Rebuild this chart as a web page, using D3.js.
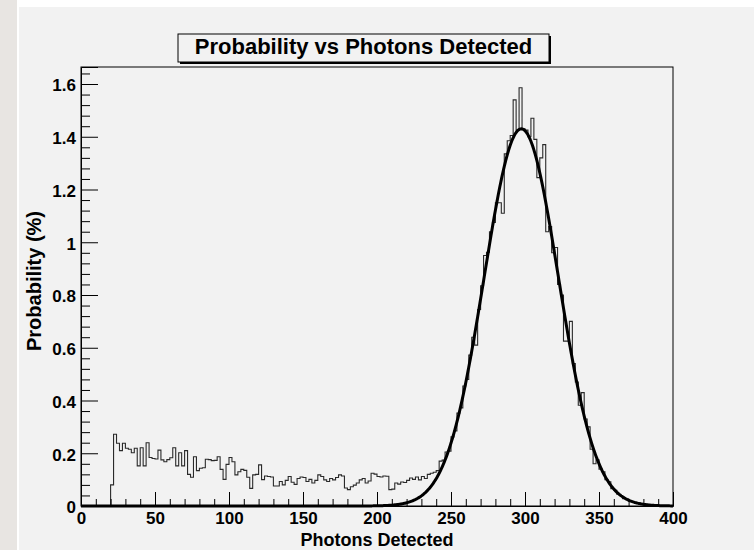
<!DOCTYPE html>
<html>
<head>
<meta charset="utf-8">
<script src="https://cdn.jsdelivr.net/npm/d3@7"></script>
<style>
  html, body { margin: 0; padding: 0; background: #ffffff; }
  svg { display: block; }
  text { font-family: "Liberation Sans", Arial, Helvetica, sans-serif; font-weight: bold; fill: #000; }
</style>
</head>
<body>
<svg id="chart" width="754" height="550"></svg>
<script>
// Histogram binning along the photon-count axis
const xRange = [0, 400];
const binWidth = 2;

// Probability (%) per 2-photon bin, bins starting at 0, 2, 4, ... 398
const probability = [
  0, 0, 0, 0, 0, 0, 0, 0, 0, 0,
  0.080, 0.272, 0.238, 0.210, 0.238, 0.219, 0.215, 0.202, 0.219, 0.152,
  0.221, 0.152, 0.240, 0.184, 0.180, 0.178, 0.212, 0.175, 0.168, 0.176,
  0.183, 0.221, 0.152, 0.202, 0.152, 0.210, 0.120, 0.109, 0.187, 0.134,
  0.143, 0.145, 0.177, 0.176, 0.172, 0.173, 0.187, 0.139, 0.101, 0.158,
  0.184, 0.168, 0.118, 0.130, 0.139, 0.135, 0.109, 0.067, 0.118, 0.120,
  0.156, 0.100, 0.114, 0.112, 0.110, 0.076, 0.076, 0.093, 0.080, 0.097,
  0.112, 0.090, 0.082, 0.104, 0.110, 0.108, 0.093, 0.101, 0.087, 0.097,
  0.118, 0.112, 0.099, 0.093, 0.104, 0.099, 0.108, 0.118, 0.114, 0.068,
  0.062, 0.073, 0.079, 0.087, 0.099, 0.104, 0.087, 0.095, 0.124, 0.121,
  0.112, 0.110, 0.114, 0.113, 0.062, 0.064, 0.087, 0.083, 0.091, 0.089,
  0.097, 0.106, 0.101, 0.110, 0.099, 0.112, 0.104, 0.120, 0.124, 0.128,
  0.134, 0.170, 0.174, 0.205, 0.208, 0.262, 0.285, 0.352, 0.372, 0.455,
  0.480, 0.572, 0.640, 0.610, 0.745, 0.835, 0.950, 0.962, 1.040, 1.075,
  1.150, 1.150, 1.110, 1.335, 1.385, 1.405, 1.540, 1.425, 1.586, 1.430,
  1.425, 1.400, 1.470, 1.390, 1.245, 1.320, 1.370, 1.040, 1.060, 0.960,
  0.980, 0.840, 0.800, 0.625, 0.625, 0.700, 0.540, 0.470, 0.382, 0.430,
  0.330, 0.300, 0.215, 0.160, 0.175, 0.140, 0.130, 0.100, 0.092, 0.066,
  0.060, 0.045, 0.040, 0.028, 0.026, 0.018, 0.017, 0.010, 0.011, 0.006,
  0.006, 0.004, 0.003, 0.002, 0.002, 0.001, 0.001, 0, 0, 0
];

// Gaussian fit parameters (constant, mean, sigma)
const fitConstant = 1.43;
const fitMean = 297.5;
const fitSigma = 25.1;

// Axis ticks and labels
const xTickValues = [0, 50, 100, 150, 200, 250, 300, 350, 400];
const xTickLabels = ["0", "50", "100", "150", "200", "250", "300", "350", "400"];
const yTickValues = [0, 0.2, 0.4, 0.6, 0.8, 1.0, 1.2, 1.4, 1.6];
const yTickLabels = ["0", "0.2", "0.4", "0.6", "0.8", "1", "1.2", "1.4", "1.6"];
const yMax = 1.6645;

const titleText = "Probability vs Photons Detected";
const xTitle = "Photons Detected";
const yTitle = "Probability (%)";

// ---- layout ----
const frame = { left: 81, right: 673, top: 67, bottom: 506 };
const svg = d3.select("#chart");

// canvas background
svg.append("rect").attr("x", 0).attr("y", 0).attr("width", 754).attr("height", 550).attr("fill", "#ffffff");
svg.append("rect").attr("x", 0).attr("y", 0).attr("width", 17).attr("height", 550).attr("fill", "#e8e5e2");
svg.append("rect").attr("x", 19).attr("y", 7).attr("width", 735).attr("height", 543).attr("fill", "#f2f2f2");

const x = d3.scaleLinear().domain(xRange).range([frame.left, frame.right]);
const y = d3.scaleLinear().domain([0, yMax]).range([frame.bottom, frame.top]);

// ---- histogram (step outline) ----
const steps = probability.map((v, i) => [xRange[0] + i * binWidth, v]);
steps.push([xRange[0] + probability.length * binWidth, probability[probability.length - 1]]);

const stepLine = d3.line()
  .x(d => x(d[0]))
  .y(d => y(d[1]))
  .curve(d3.curveStepAfter);

svg.append("path")
  .datum(steps)
  .attr("d", stepLine)
  .attr("fill", "none")
  .attr("stroke", "#2a2a2a")
  .attr("stroke-width", 1.1);

// ---- Gaussian fit curve ----
const fitX = d3.range(xRange[0], xRange[1] + 0.5, 0.5);
const fitPoints = fitX.map(t => [t, fitConstant * Math.exp(-0.5 * Math.pow((t - fitMean) / fitSigma, 2))]);

svg.append("path")
  .datum(fitPoints)
  .attr("d", d3.line().x(d => x(d[0])).y(d => y(d[1])).curve(d3.curveLinear))
  .attr("fill", "none")
  .attr("stroke", "#000")
  .attr("stroke-width", 3)
  .attr("stroke-linejoin", "round");

// ---- frame ----
svg.append("rect")
  .attr("x", frame.left).attr("y", frame.top)
  .attr("width", frame.right - frame.left).attr("height", frame.bottom - frame.top)
  .attr("fill", "none").attr("stroke", "#000").attr("stroke-width", 1);

// ---- y axis ----
const yMinor = d3.range(0, yMax, 0.04).filter(v => !yTickValues.some(t => Math.abs(t - v) < 1e-6));
svg.append("g")
  .attr("transform", `translate(${frame.left},0)`)
  .call(d3.axisLeft(y).tickValues(yMinor).tickSize(-9).tickFormat(""))
  .call(g => g.select(".domain").remove());

const yAxis = svg.append("g")
  .attr("transform", `translate(${frame.left},0)`)
  .call(d3.axisLeft(y).tickValues(yTickValues).tickSize(-17).tickPadding(5)
    .tickFormat((d, i) => yTickLabels[i]));
yAxis.select(".domain").attr("stroke", "#000");
yAxis.selectAll(".tick line").attr("stroke", "#000");
yAxis.selectAll("text").attr("font-size", 17).attr("font-family", "Liberation Sans, Arial, sans-serif").attr("font-weight", "bold").attr("fill", "#000").attr("dy", "0.4em");

// ---- x axis ----
const xMinor = d3.range(0, xRange[1] + 1, 10).filter(v => v % 50 !== 0);
svg.append("g")
  .attr("transform", `translate(0,${frame.bottom})`)
  .call(d3.axisBottom(x).tickValues(xMinor).tickSize(-7).tickFormat(""))
  .call(g => g.select(".domain").remove());

const xAxis = svg.append("g")
  .attr("transform", `translate(0,${frame.bottom})`)
  .call(d3.axisBottom(x).tickValues(xTickValues).tickSize(-14).tickPadding(6)
    .tickFormat((d, i) => xTickLabels[i]));
xAxis.select(".domain").attr("stroke", "#000");
xAxis.selectAll(".tick line").attr("stroke", "#000");
xAxis.selectAll("text").attr("font-size", 17).attr("font-family", "Liberation Sans, Arial, sans-serif").attr("font-weight", "bold").attr("fill", "#000");

// ---- axis titles ----
svg.append("text")
  .attr("x", (frame.left + frame.right) / 2)
  .attr("y", 546)
  .attr("text-anchor", "middle")
  .attr("font-size", 18)
  .text(xTitle);

svg.append("text")
  .attr("transform", "translate(41,281) rotate(-90)")
  .attr("text-anchor", "middle")
  .attr("font-size", 20)
  .text(yTitle);

// ---- title box with shadow ----
const tb = { x: 178, y: 34, w: 371, h: 28 };
svg.append("rect")
  .attr("x", tb.x + 2).attr("y", tb.y + 2).attr("width", tb.w).attr("height", tb.h)
  .attr("fill", "#000");
svg.append("rect")
  .attr("x", tb.x).attr("y", tb.y).attr("width", tb.w).attr("height", tb.h)
  .attr("fill", "#f2f2f2").attr("stroke", "#000").attr("stroke-width", 1);
svg.append("text")
  .attr("x", tb.x + tb.w / 2)
  .attr("y", tb.y + 20)
  .attr("text-anchor", "middle")
  .attr("font-size", 22)
  .text(titleText);
</script>
</body>
</html>
